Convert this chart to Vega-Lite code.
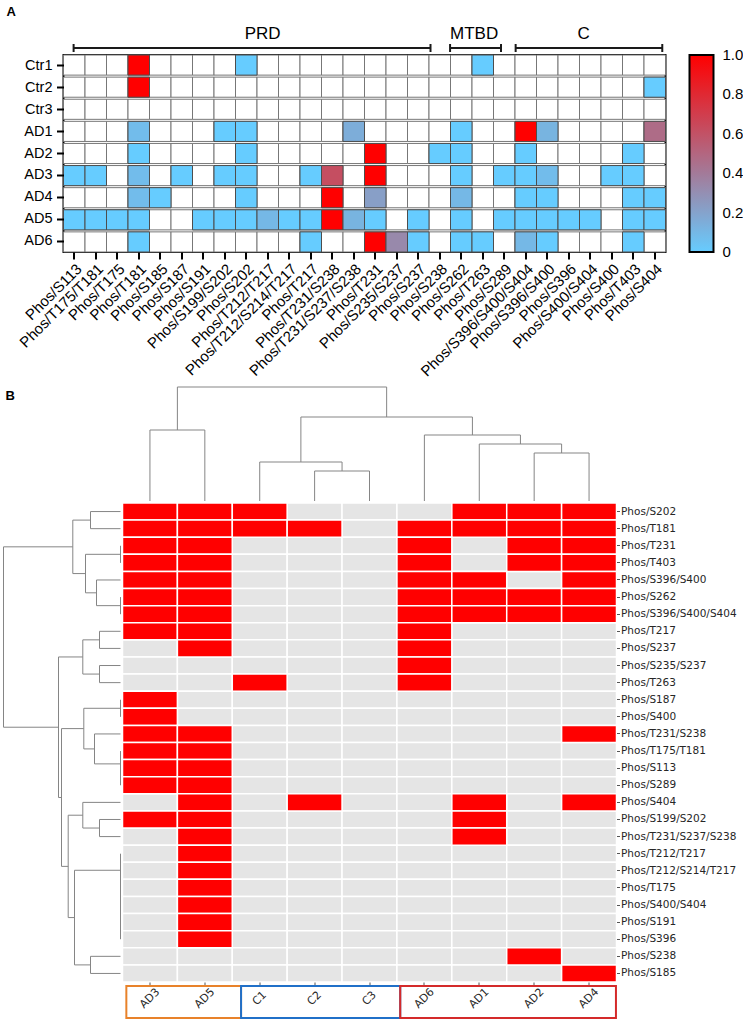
{
  "$schema": "https://vega.github.io/schema/vega-lite/v6.json",
  "background": "white",
  "padding": {"left": 2.5, "top": 5, "right": 0, "bottom": 0},
  "config": {
    "view": {"stroke": null},
    "font": "Liberation Sans",
    "axis": {"grid": false, "title": null}
  },
  "datasets": {
    "domains": [
      {"domain": "PRD", "start": 0.47, "end": 17.07, "labelPos": 9.26},
      {"domain": "MTBD", "start": 17.98, "end": 20.35, "labelPos": 19.1},
      {"domain": "C", "start": 21.03, "end": 27.85, "labelPos": 24.19}
    ],
    "samplesA": [
      {"sample": "Ctr1", "Phos/T181": 1.0, "Phos/S202": 0, "Phos/T263": 0},
      {"sample": "Ctr2", "Phos/T181": 1.0, "Phos/S404": 0},
      {"sample": "Ctr3"},
      {"sample": "AD1", "Phos/T181": 0.08, "Phos/S199/S202": 0, "Phos/S202": 0, "Phos/T231/S237/S238": 0.15, "Phos/S262": 0, "Phos/S396/S400/S404": 1.0, "Phos/S396/S400": 0.12, "Phos/S404": 0.47},
      {"sample": "AD2", "Phos/T181": 0, "Phos/S202": 0, "Phos/T231": 1.0, "Phos/S238": 0, "Phos/S262": 0, "Phos/S396/S400/S404": 0, "Phos/T403": 0},
      {"sample": "AD3", "Phos/S113": 0, "Phos/T175/T181": 0, "Phos/T181": 0.08, "Phos/S187": 0, "Phos/S199/S202": 0, "Phos/S202": 0, "Phos/T217": 0, "Phos/T231/S238": 0.62, "Phos/T231": 1.0, "Phos/S262": 0, "Phos/S289": 0, "Phos/S396/S400/S404": 0, "Phos/S396/S400": 0.08, "Phos/S400": 0, "Phos/T403": 0},
      {"sample": "AD4", "Phos/T181": 0.08, "Phos/S185": 0, "Phos/S202": 0, "Phos/T231/S238": 1.0, "Phos/T231": 0.22, "Phos/S262": 0.1, "Phos/S396/S400/S404": 0, "Phos/S396/S400": 0, "Phos/T403": 0, "Phos/S404": 0},
      {"sample": "AD5", "Phos/S113": 0, "Phos/T175/T181": 0, "Phos/T175": 0, "Phos/T181": 0, "Phos/S191": 0, "Phos/S199/S202": 0, "Phos/S202": 0, "Phos/T212/T217": 0.1, "Phos/T212/S214/T217": 0, "Phos/T217": 0, "Phos/T231/S238": 1.0, "Phos/T231/S237/S238": 0.12, "Phos/T231": 0, "Phos/S237": 0, "Phos/S262": 0, "Phos/S289": 0, "Phos/S396/S400/S404": 0, "Phos/S396/S400": 0, "Phos/S396": 0, "Phos/S400/S404": 0, "Phos/T403": 0, "Phos/S404": 0},
      {"sample": "AD6", "Phos/T181": 0, "Phos/T217": 0, "Phos/T231": 1.0, "Phos/S235/S237": 0.33, "Phos/S237": 0, "Phos/S262": 0, "Phos/T263": 0, "Phos/S396/S400/S404": 0.1, "Phos/S396/S400": 0, "Phos/T403": 0}
    ],
    "sitesB": [
      {"site": "Phos/S202", "AD3": 1, "AD5": 1, "C1": 1, "AD1": 1, "AD2": 1, "AD4": 1},
      {"site": "Phos/T181", "AD3": 1, "AD5": 1, "C1": 1, "C2": 1, "AD6": 1, "AD1": 1, "AD2": 1, "AD4": 1},
      {"site": "Phos/T231", "AD3": 1, "AD5": 1, "AD6": 1, "AD2": 1, "AD4": 1},
      {"site": "Phos/T403", "AD3": 1, "AD5": 1, "AD6": 1, "AD2": 1, "AD4": 1},
      {"site": "Phos/S396/S400", "AD3": 1, "AD5": 1, "AD6": 1, "AD1": 1, "AD4": 1},
      {"site": "Phos/S262", "AD3": 1, "AD5": 1, "AD6": 1, "AD1": 1, "AD2": 1, "AD4": 1},
      {"site": "Phos/S396/S400/S404", "AD3": 1, "AD5": 1, "AD6": 1, "AD1": 1, "AD2": 1, "AD4": 1},
      {"site": "Phos/T217", "AD3": 1, "AD5": 1, "AD6": 1},
      {"site": "Phos/S237", "AD5": 1, "AD6": 1},
      {"site": "Phos/S235/S237", "AD6": 1},
      {"site": "Phos/T263", "C1": 1, "AD6": 1},
      {"site": "Phos/S187", "AD3": 1},
      {"site": "Phos/S400", "AD3": 1},
      {"site": "Phos/T231/S238", "AD3": 1, "AD5": 1, "AD4": 1},
      {"site": "Phos/T175/T181", "AD3": 1, "AD5": 1},
      {"site": "Phos/S113", "AD3": 1, "AD5": 1},
      {"site": "Phos/S289", "AD3": 1, "AD5": 1},
      {"site": "Phos/S404", "AD5": 1, "C2": 1, "AD1": 1, "AD4": 1},
      {"site": "Phos/S199/S202", "AD3": 1, "AD5": 1, "AD1": 1},
      {"site": "Phos/T231/S237/S238", "AD5": 1, "AD1": 1},
      {"site": "Phos/T212/T217", "AD5": 1},
      {"site": "Phos/T212/S214/T217", "AD5": 1},
      {"site": "Phos/T175", "AD5": 1},
      {"site": "Phos/S400/S404", "AD5": 1},
      {"site": "Phos/S191", "AD5": 1},
      {"site": "Phos/S396", "AD5": 1},
      {"site": "Phos/S238", "AD2": 1},
      {"site": "Phos/S185", "AD4": 1}
    ],
    "rowTree": [
      {"pl": 0, "pr": 1, "hl": 0, "hr": 0, "h": 30},
      {"pl": 2, "pr": 3, "hl": 0, "hr": 0, "h": 0},
      {"pl": 5, "pr": 6, "hl": 0, "hr": 0, "h": 0},
      {"pl": 4, "pr": 5.5, "hl": 0, "hr": 0, "h": 24},
      {"pl": 2.5, "pr": 4.75, "hl": 0, "hr": 24, "h": 35},
      {"pl": 0.5, "pr": 3.625, "hl": 30, "hr": 35, "h": 47.7},
      {"pl": 7, "pr": 8, "hl": 0, "hr": 0, "h": 21},
      {"pl": 9, "pr": 10, "hl": 0, "hr": 0, "h": 21},
      {"pl": 7.5, "pr": 9.5, "hl": 21, "hr": 21, "h": 37.7},
      {"pl": 11, "pr": 12, "hl": 0, "hr": 0, "h": 0},
      {"pl": 15, "pr": 16, "hl": 0, "hr": 0, "h": 0},
      {"pl": 14, "pr": 15.5, "hl": 0, "hr": 0, "h": 0},
      {"pl": 13, "pr": 14.75, "hl": 0, "hr": 0, "h": 26},
      {"pl": 11.5, "pr": 13.875, "hl": 0, "hr": 26, "h": 36.7},
      {"pl": 18, "pr": 19, "hl": 0, "hr": 0, "h": 21},
      {"pl": 17, "pr": 18.5, "hl": 0, "hr": 21, "h": 37.7},
      {"pl": 24, "pr": 25, "hl": 0, "hr": 0, "h": 0},
      {"pl": 23, "pr": 24.5, "hl": 0, "hr": 0, "h": 0},
      {"pl": 22, "pr": 23.75, "hl": 0, "hr": 0, "h": 0},
      {"pl": 21, "pr": 22.875, "hl": 0, "hr": 0, "h": 0},
      {"pl": 20, "pr": 21.9375, "hl": 0, "hr": 0, "h": 0},
      {"pl": 26, "pr": 27, "hl": 0, "hr": 0, "h": 30},
      {"pl": 20.96875, "pr": 26.5, "hl": 0, "hr": 30, "h": 46},
      {"pl": 17.75, "pr": 23.734, "hl": 37.7, "hr": 46, "h": 52.3},
      {"pl": 12.6875, "pr": 20.742, "hl": 36.7, "hr": 52.3, "h": 59},
      {"pl": 8.5, "pr": 16.715, "hl": 37.7, "hr": 59, "h": 62},
      {"pl": 2.0625, "pr": 12.607, "hl": 47.7, "hr": 62, "h": 117}
    ],
    "colTree": [
      {"xl": 7, "xr": 8, "hl": 0, "hr": 0, "h": 48},
      {"xl": 6, "xr": 7.5, "hl": 0, "hr": 48, "h": 57},
      {"xl": 5, "xr": 6.75, "hl": 0, "hr": 57, "h": 66},
      {"xl": 3, "xr": 4, "hl": 0, "hr": 0, "h": 30},
      {"xl": 2, "xr": 3.5, "hl": 0, "hr": 30, "h": 39},
      {"xl": 2.75, "xr": 5.875, "hl": 39, "hr": 66, "h": 84},
      {"xl": 0, "xr": 1, "hl": 0, "hr": 0, "h": 71},
      {"xl": 0.5, "xr": 4.3125, "hl": 71, "hr": 84, "h": 114}
    ],
    "clusters": [
      {"cluster": "AD3/AD5", "start": -0.43, "end": 1.66},
      {"cluster": "Control", "start": 1.66, "end": 4.56},
      {"cluster": "AD rest", "start": 4.56, "end": 8.49}
    ]
  },
  "spacing": 6,
  "vconcat": [
    {
      "spacing": 0,
      "vconcat": [
        {
          "spacing": 3,
          "bounds": "flush",
          "hconcat": [
            {
              "width": 57, "height": 47,
              "data": {"values": [{"label": "A"}]},
              "mark": {"type": "text", "align": "left", "baseline": "top", "fontSize": 13, "fontWeight": "bold", "dx": 3, "dy": 1, "color": "black"},
              "encoding": {
                "text": {"field": "label"},
                "x": {"datum": 0, "type": "quantitative", "scale": {"domain": [0, 1]}, "axis": null},
                "y": {"datum": 1, "type": "quantitative", "scale": {"domain": [0, 1]}, "axis": null}
              }
            },
            {
              "width": 602, "height": 47,
              "data": {"name": "domains"},
              "layer": [
                {
                  "mark": {"type": "rule", "strokeWidth": 2, "color": "#1a1a1a"},
                  "encoding": {
                    "x": {"field": "start", "type": "quantitative", "scale": {"domain": [0, 28], "nice": false, "zero": false}, "axis": null},
                    "x2": {"field": "end"},
                    "y": {"datum": 0.085, "type": "quantitative", "scale": {"domain": [0, 1]}, "axis": null}
                  }
                },
                {
                  "mark": {"type": "rule", "strokeWidth": 2, "color": "#1a1a1a"},
                  "encoding": {
                    "x": {"field": "start", "type": "quantitative"},
                    "y": {"datum": 0.0, "type": "quantitative"},
                    "y2": {"datum": 0.17}
                  }
                },
                {
                  "mark": {"type": "rule", "strokeWidth": 2, "color": "#1a1a1a"},
                  "encoding": {
                    "x": {"field": "end", "type": "quantitative"},
                    "y": {"datum": 0.0, "type": "quantitative"},
                    "y2": {"datum": 0.17}
                  }
                },
                {
                  "mark": {"type": "text", "fontSize": 17, "baseline": "alphabetic", "align": "center", "color": "black"},
                  "encoding": {
                    "x": {"field": "labelPos", "type": "quantitative"},
                    "y": {"datum": 0.27, "type": "quantitative"},
                    "text": {"field": "domain"}
                  }
                }
              ]
            }
          ]
        },
        {
          "spacing": 3,
          "bounds": "flush",
          "hconcat": [
            {
              "width": 57, "height": 197,
              "data": {"name": "samplesA"},
              "mark": {"type": "text", "align": "right", "baseline": "middle", "fontSize": 14.5, "dx": -8, "color": "black"},
              "encoding": {
                "y": {"field": "sample", "type": "nominal", "sort": null, "scale": {"paddingInner": 0.09, "paddingOuter": 0}, "axis": null},
                "x": {"datum": 1, "type": "quantitative", "scale": {"domain": [0, 1]}, "axis": null},
                "text": {"field": "sample"}
              }
            },
            {
              "width": 602, "height": 197,
              "view": {"stroke": "black", "strokeWidth": 2},
              "data": {"name": "samplesA"},
              "transform": [
                {"fold": ["Phos/S113", "Phos/T175/T181", "Phos/T175", "Phos/T181", "Phos/S185", "Phos/S187", "Phos/S191", "Phos/S199/S202", "Phos/S202", "Phos/T212/T217", "Phos/T212/S214/T217", "Phos/T217", "Phos/T231/S238", "Phos/T231/S237/S238", "Phos/T231", "Phos/S235/S237", "Phos/S237", "Phos/S238", "Phos/S262", "Phos/T263", "Phos/S289", "Phos/S396/S400/S404", "Phos/S396/S400", "Phos/S396", "Phos/S400/S404", "Phos/S400", "Phos/T403", "Phos/S404"], "as": ["site", "value"]}
              ],
              "encoding": {
                "x": {"field": "site", "type": "nominal", "sort": null, "scale": {"paddingInner": 0, "paddingOuter": 0},
                  "axis": {"labelAngle": -45, "labelFontSize": 15, "labelColor": "black", "tickColor": "black", "tickWidth": 2, "tickSize": 7, "domain": false, "title": null, "labelPadding": 2, "labelOverlap": false, "labelAlign": "right", "labelBaseline": "top"}},
                "y": {"field": "sample", "type": "nominal", "sort": null, "scale": {"paddingInner": 0.09, "paddingOuter": 0},
                  "axis": {"labels": false, "ticks": true, "tickColor": "black", "tickWidth": 2, "tickSize": 7, "domain": false, "title": null}}
              },
              "layer": [
                {"mark": {"type": "rect", "fill": "white", "stroke": "#777777", "strokeWidth": 1}},
                {
                  "transform": [{"filter": "isValid(datum.value)"}],
                  "mark": {"type": "rect", "stroke": "#4d4d4d", "strokeWidth": 1},
                  "encoding": {
                    "color": {"field": "value", "type": "quantitative",
                      "scale": {"domain": [0, 1], "range": ["#66CCFF", "#FF0000"], "interpolate": "rgb"},
                      "legend": {"orient": "none", "legendX": 686, "legendY": 50, "direction": "vertical", "title": null,
                        "gradientLength": 197, "gradientThickness": 24, "gradientStrokeColor": "black", "gradientStrokeWidth": 2,
                        "values": [0, 0.2, 0.4, 0.6, 0.8, 1], "labelExpr": "datum.value == 0 ? '0' : format(datum.value, '.1f')",
                        "labelFontSize": 15, "labelColor": "black", "labelOffset": 9, "labelOverlap": false,
                        "encode": {"labels": {"update": {"baseline": {"value": "middle"}}}}}}
                  }
                }
              ]
            }
          ]
        }
      ]
    },
    {
      "spacing": 0,
      "vconcat": [
        {
          "spacing": 2,
          "bounds": "flush",
          "hconcat": [
            {
              "width": 117, "height": 114,
              "data": {"values": [{"label": "B"}]},
              "mark": {"type": "text", "align": "left", "baseline": "top", "fontSize": 13, "fontWeight": "bold", "dx": 2, "dy": 3, "color": "black"},
              "encoding": {
                "text": {"field": "label"},
                "x": {"datum": 0, "type": "quantitative", "scale": {"domain": [0, 1]}, "axis": null},
                "y": {"datum": 1, "type": "quantitative", "scale": {"domain": [0, 1]}, "axis": null}
              }
            },
            {
              "width": 494, "height": 114,
              "data": {"name": "colTree"},
              "layer": [
                {
                  "mark": {"type": "rule", "color": "#858585", "strokeWidth": 1},
                  "encoding": {
                    "x": {"field": "xl", "type": "quantitative", "scale": {"domain": [-0.5, 8.5], "nice": false, "zero": false}, "axis": null},
                    "y": {"field": "hl", "type": "quantitative", "scale": {"domain": [0, 114], "nice": false, "zero": false}, "axis": null},
                    "y2": {"field": "h"}
                  }
                },
                {
                  "mark": {"type": "rule", "color": "#858585", "strokeWidth": 1},
                  "encoding": {
                    "x": {"field": "xr", "type": "quantitative"},
                    "y": {"field": "hr", "type": "quantitative"},
                    "y2": {"field": "h"}
                  }
                },
                {
                  "mark": {"type": "rule", "color": "#858585", "strokeWidth": 1},
                  "encoding": {
                    "x": {"field": "xl", "type": "quantitative"},
                    "x2": {"field": "xr"},
                    "y": {"field": "h", "type": "quantitative"}
                  }
                }
              ]
            }
          ]
        },
        {
          "spacing": 2,
          "bounds": "flush",
          "hconcat": [
            {
              "width": 117, "height": 479,
              "data": {"name": "rowTree"},
              "layer": [
                {
                  "mark": {"type": "rule", "color": "#858585", "strokeWidth": 1},
                  "encoding": {
                    "y": {"field": "pl", "type": "quantitative", "scale": {"domain": [-0.5, 27.5], "reverse": true, "nice": false, "zero": false}, "axis": null},
                    "x": {"field": "hl", "type": "quantitative", "scale": {"domain": [0, 117], "reverse": true, "nice": false, "zero": false}, "axis": null},
                    "x2": {"field": "h"}
                  }
                },
                {
                  "mark": {"type": "rule", "color": "#858585", "strokeWidth": 1},
                  "encoding": {
                    "y": {"field": "pr", "type": "quantitative"},
                    "x": {"field": "hr", "type": "quantitative"},
                    "x2": {"field": "h"}
                  }
                },
                {
                  "mark": {"type": "rule", "color": "#858585", "strokeWidth": 1},
                  "encoding": {
                    "x": {"field": "h", "type": "quantitative"},
                    "y": {"field": "pl", "type": "quantitative"},
                    "y2": {"field": "pr"}
                  }
                }
              ]
            },
            {
              "spacing": 4,
              "bounds": "flush",
              "vconcat": [
                {
                  "width": 494, "height": 479,
                  "data": {"name": "sitesB"},
                  "transform": [{"fold": ["AD3", "AD5", "C1", "C2", "C3", "AD6", "AD1", "AD2", "AD4"], "as": ["group", "value"]}],
                  "encoding": {
                    "x": {"field": "group", "type": "nominal", "sort": null, "scale": {"paddingInner": 0, "paddingOuter": 0},
                      "axis": {"labelAngle": -45, "labelAlign": "center", "labelBaseline": "middle", "labelFont": "DejaVu Sans", "labelFontSize": 11, "labelColor": "#262626", "tickSize": 3, "tickColor": "#555555", "labelPadding": 13, "domain": false, "title": null}},
                    "y": {"field": "site", "type": "nominal", "sort": null, "scale": {"paddingInner": 0, "paddingOuter": 0},
                      "axis": {"orient": "right", "labelFont": "DejaVu Sans", "labelFontSize": 10.5, "labelColor": "#262626", "tickSize": 3, "tickColor": "#555555", "labelPadding": 1, "domain": false, "title": null, "labelOverlap": false}}
                  },
                  "layer": [
                    {"mark": {"type": "rect", "fill": "#E5E5E5", "stroke": "white", "strokeWidth": 1.5}},
                    {
                      "transform": [{"filter": "datum.value == 1"}],
                      "mark": {"type": "rect", "fill": "#FF0000", "stroke": "white", "strokeWidth": 1.5}
                    }
                  ]
                },
                {
                  "width": 494, "height": 32,
                  "data": {"name": "clusters"},
                  "encoding": {
                    "x": {"field": "start", "type": "quantitative", "scale": {"domain": [-0.5, 8.5], "nice": false, "zero": false}, "axis": null},
                    "x2": {"field": "end"}
                  },
                  "layer": [
                    {"transform": [{"filter": "datum.cluster == 'AD3/AD5'"}], "mark": {"type": "rect", "filled": false, "stroke": "#E8822A", "strokeWidth": 2}},
                    {"transform": [{"filter": "datum.cluster == 'Control'"}], "mark": {"type": "rect", "filled": false, "stroke": "#2070C8", "strokeWidth": 2}},
                    {"transform": [{"filter": "datum.cluster == 'AD rest'"}], "mark": {"type": "rect", "filled": false, "stroke": "#D42A2A", "strokeWidth": 2}}
                  ]
                }
              ]
            }
          ]
        }
      ]
    }
  ]
}
